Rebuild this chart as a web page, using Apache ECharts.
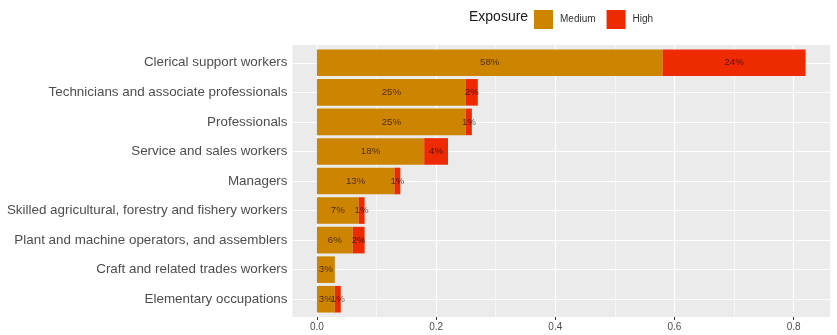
<!DOCTYPE html>
<html>
<head>
<meta charset="utf-8">
<script src="https://cdn.jsdelivr.net/npm/echarts@6/dist/echarts.min.js"></script>
<style>
html,body{margin:0;padding:0;background:#fff;}
#chart{width:837px;height:335px;}
</style>
</head>
<body>
<div id="chart"></div>
<script>
const categories = [
  'Clerical support workers',
  'Technicians and associate professionals',
  'Professionals',
  'Service and sales workers',
  'Managers',
  'Skilled agricultural, forestry and fishery workers',
  'Plant and machine operators, and assemblers',
  'Craft and related trades workers',
  'Elementary occupations'
];
const mediumValues = [0.58, 0.25, 0.25, 0.18, 0.13, 0.07, 0.06, 0.03, 0.03];
const highValues   = [0.24, 0.02, 0.01, 0.04, 0.01, 0.01, 0.02, 0.00, 0.01];
const xTicks = [0, 0.2, 0.4, 0.6, 0.8];
const xMinorTicks = [0.1, 0.3, 0.5, 0.7];
const legendTitle = 'Exposure';
const seriesNames = ['Medium', 'High'];

const FONT = '"Liberation Sans", Arial, Helvetica, sans-serif';
const XMIN = -0.041, XMAX = 0.861;
const pct = p => (p.value > 0 ? Math.round(p.value * 100) + '%' : '');
const labelStyle = {
  show: true, position: 'inside', formatter: pct,
  color: 'rgba(20,0,0,0.68)', fontSize: 9.7, fontFamily: FONT
};

const chart = echarts.init(document.getElementById('chart'), null, {renderer: 'canvas'});
chart.setOption({
  animation: false,
  backgroundColor: '#ffffff',
  title: {
    text: legendTitle, left: 464, top: 5,
    textStyle: {fontSize: 14, fontWeight: 'normal', color: '#1a1a1a', fontFamily: FONT}
  },
  legend: {
    data: seriesNames, left: 529, top: 5, icon: 'rect',
    itemWidth: 19, itemHeight: 19, itemGap: 11,
    textStyle: {fontSize: 10, color: '#333', fontFamily: FONT, padding: [0, 0, 0, 2]}
  },
  grid: [
    {left: 292.5, right: 7, top: 48, bottom: 21, containLabel: false},
    {left: 292.5, right: 7, top: 45, bottom: 18, show: true, backgroundColor: '#EBEBEB', borderWidth: 0, z: 0}
  ],
  xAxis: [
    {gridIndex: 0, type: 'value', min: XMIN, max: XMAX, show: false},
    {gridIndex: 1, type: 'value', min: XMIN, max: XMAX,
     axisLine: {show: false},
     axisTick: {show: true, customValues: xTicks, length: 3, lineStyle: {color: '#333', width: 1}},
     axisLabel: {customValues: xTicks, formatter: v => v.toFixed(1), color: '#4D4D4D', fontSize: 10, margin: 5, fontFamily: FONT},
     splitLine: {show: false}}
  ],
  yAxis: [
    {gridIndex: 0, type: 'category', data: categories, inverse: true,
     axisLine: {show: false},
     axisTick: {show: true, alignWithLabel: true, length: 3, lineStyle: {color: '#333', width: 1}},
     axisLabel: {color: '#4D4D4D', fontSize: 13.4, margin: 5, fontFamily: FONT},
     splitLine: {show: false}},
    {gridIndex: 1, type: 'value', min: 0, max: 1, show: false}
  ],
  series: [
    {
      name: '_vgrid', type: 'line', xAxisIndex: 1, yAxisIndex: 1, data: [], z: 1, silent: true,
      markLine: {
        z: 1, silent: true, symbol: ['none', 'none'], label: {show: false}, animation: false,
        data: xTicks.map(v => ({xAxis: v, lineStyle: {color: '#fff', width: 1.2, type: 'solid'}}))
          .concat(xMinorTicks.map(v => ({xAxis: v, lineStyle: {color: '#fff', width: 0.6, type: 'solid'}})))
      }
    },
    {
      name: '_hgrid', type: 'line', xAxisIndex: 0, yAxisIndex: 0, data: [], z: 1, silent: true,
      markLine: {
        z: 1, silent: true, symbol: ['none', 'none'], label: {show: false}, animation: false,
        data: categories.map(c => ({yAxis: c, lineStyle: {color: '#fff', width: 1.2, type: 'solid'}}))
      }
    },
    {
      name: seriesNames[0], type: 'bar', stack: 'total', xAxisIndex: 0, yAxisIndex: 0,
      data: mediumValues, barWidth: '90%', z: 3,
      itemStyle: {color: '#CD8500'}, label: labelStyle
    },
    {
      name: seriesNames[1], type: 'bar', stack: 'total', xAxisIndex: 0, yAxisIndex: 0,
      data: highValues, barWidth: '90%', z: 3,
      itemStyle: {color: '#EE2A00'}, label: labelStyle
    }
  ]
});
</script>
</body>
</html>
